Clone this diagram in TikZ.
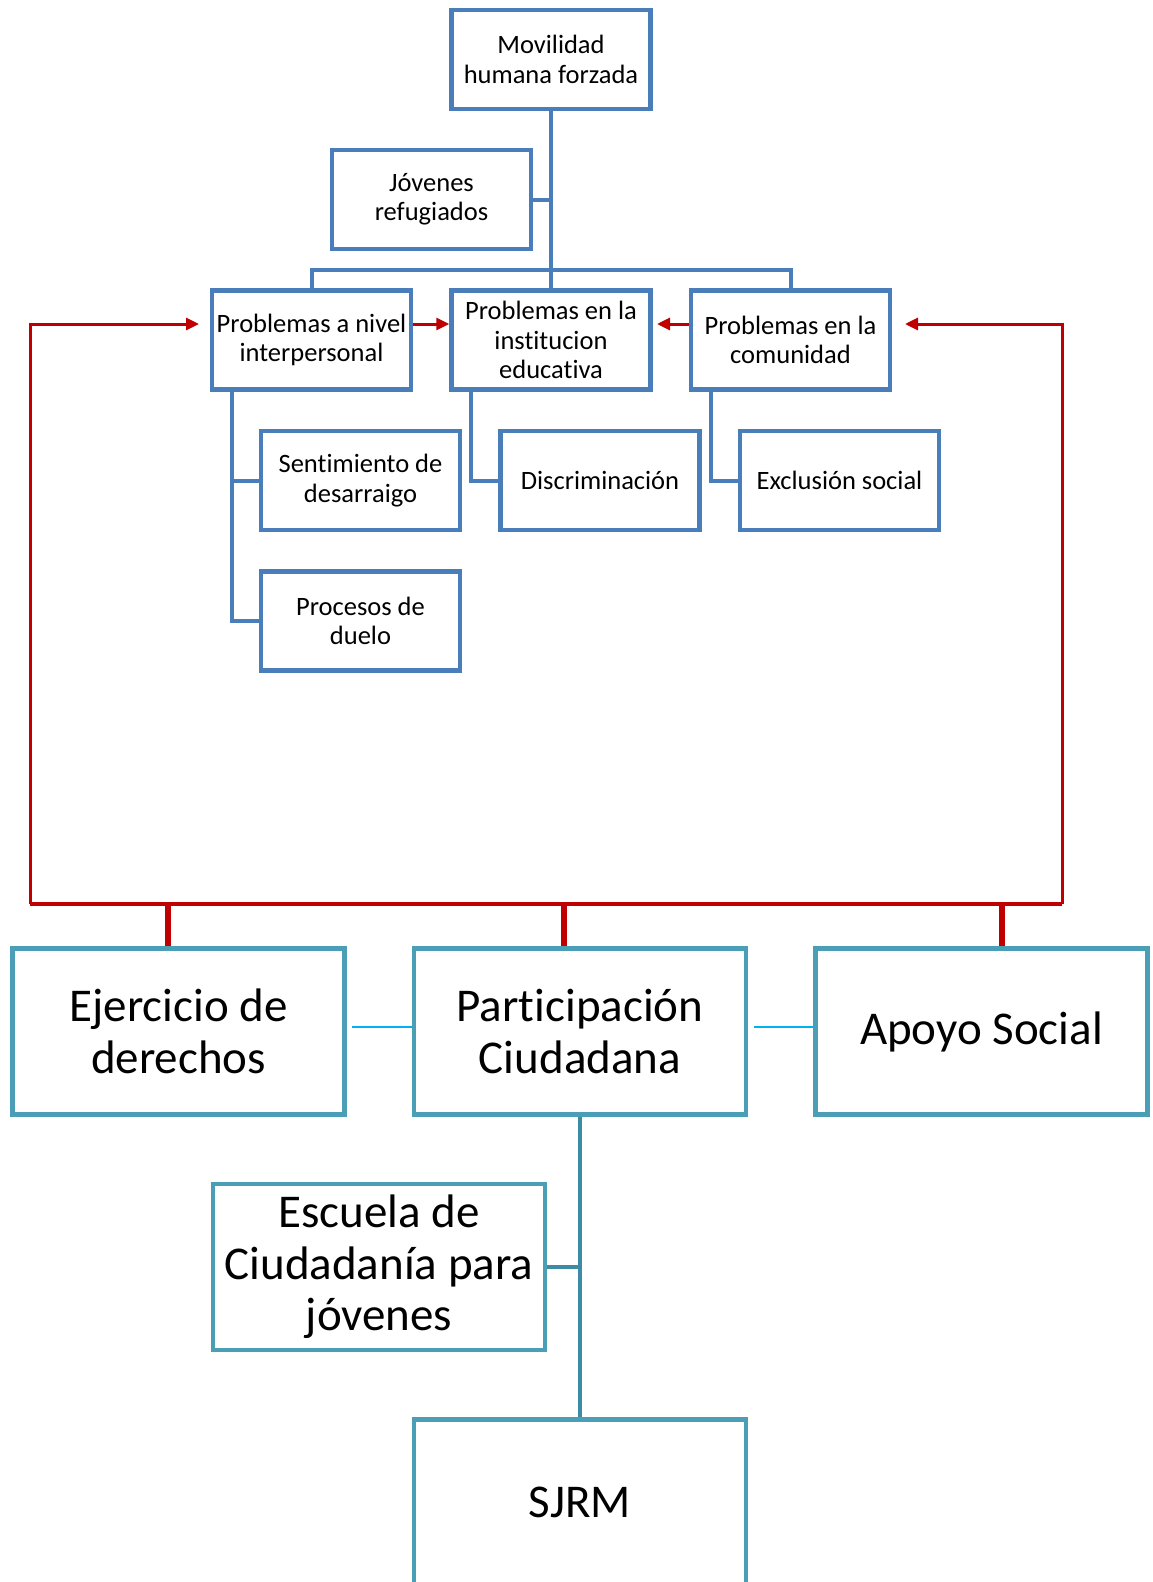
\documentclass[tikz,border=0pt]{standalone}
\usepackage{fontspec}
\setmainfont{Carlito}[RawFeature={-liga;-dlig;-clig;-calt;-hlig}]
\usetikzlibrary{arrows.meta}
\definecolor{bblue}{RGB}{74,126,187}
\definecolor{tealb}{RGB}{74,158,181}
\definecolor{tealc}{RGB}{60,140,165}
\definecolor{lblue}{RGB}{0,176,240}
\definecolor{dred}{RGB}{192,0,0}
\begin{document}
\begin{tikzpicture}[x=1pt,y=-1pt,
  sbox/.style={draw=bblue,line width=4.5pt,minimum width=199pt,minimum height=99pt,inner sep=0pt,align=center,font=\fontsize{26.5}{29.3}\selectfont},
  bbox/.style={draw=tealb,line width=4.5pt,minimum width=332pt,minimum height=166pt,inner sep=0pt,align=center,font=\fontsize{47}{51.5}\selectfont},
  bconn/.style={draw=bblue,line width=4pt},
  tconn/.style={draw=tealc,line width=4pt},
  lconn/.style={draw=lblue,line width=2pt},
  rbar/.style={draw=dred,line width=4.5pt},
  rstub/.style={draw=dred,line width=6.5pt},
  rarrow/.style={draw=dred,line width=3pt,-{Triangle[length=13pt,width=12pt]}}]
\useasboundingbox (0,0) rectangle (1152,1582);
% top tree
\node[sbox] (mov) at (551,59.5) {Movilidad\\humana forzada};
\node[sbox] (jov) at (431.5,199.5) {Jóvenes\\refugiados};
\node[sbox] (inter) at (311.5,340) {Problemas a nivel\\interpersonal};
\node[sbox] (inst) at (551,340) {Problemas en la\\institucion\\educativa};
\node[sbox] (com) at (790.5,340) {Problemas en la\\comunidad};
\node[sbox] (sent) at (360.5,480.5) {Sentimiento de\\desarraigo};
\node[sbox] (proc) at (360.5,621) {Procesos de\\duelo};
\node[sbox] (disc) at (600,480.5) {Discriminación};
\node[sbox] (excl) at (839.5,480.5) {Exclusión social};
% bottom boxes
\node[bbox] (ejer) at (178.5,1031.5) {Ejercicio de\\derechos};
\node[bbox] (part) at (580,1031.5) {Participación\\Ciudadana};
\node[bbox] (apoyo) at (981.5,1031.5) {Apoyo Social};
\node[bbox] (esc) at (379,1267) {Escuela de\\Ciudadanía para\\jóvenes};
\node[bbox] (sjrm) at (580,1502.5) {SJRM};
% coordinates
\coordinate (bar) at (0,270);
\coordinate (sx1) at (232,0);
\coordinate (sx2) at (471,0);
\coordinate (sx3) at (711,0);
\coordinate (rBL) at (30,904);
\coordinate (rBR) at (1062,904);
\coordinate (aL) at (199,324);
\coordinate (aR) at (905,324);
\coordinate (aM) at (657,324);
\coordinate (s1) at (168,904);
\coordinate (s2) at (564,904);
\coordinate (s3) at (1002,904);
\coordinate (ly) at (0,1027);
% blue connectors
\draw[bconn] (mov.south) -- (inst.north);
\draw[bconn] (jov.east) -- (jov.east -| mov.south);
\draw[bconn] (inter.north) |- (bar -| com.north) -- (com.north);
\draw[bconn] (inter.south -| sx1) |- (proc.west);
\draw[bconn] (sent.west) -- (sent.west -| sx1);
\draw[bconn] (inst.south -| sx2) |- (disc.west);
\draw[bconn] (com.south -| sx3) |- (excl.west);
% red connectors
\draw[rbar] (rBL) -- (rBR);
\draw[rarrow] (rBL) |- (aL);
\draw[rarrow] (rBR) |- (aR);
\draw[rarrow] (inter.east |- aL) -- (inst.west |- aL);
\draw[rarrow] (com.west |- aM) -- (aM);
\draw[rstub] (s1) -- (ejer.north -| s1);
\draw[rstub] (s2) -- (part.north -| s2);
\draw[rstub] (s3) -- (apoyo.north -| s3);
% teal connectors
\draw[lconn] ([xshift=5pt]ejer.east |- ly) -- (part.west |- ly);
\draw[lconn] ([xshift=6pt]part.east |- ly) -- (apoyo.west |- ly);
\draw[tconn] (part.south) -- (sjrm.north);
\draw[tconn] (esc.east) -- (esc.east -| part.south);
\end{tikzpicture}
\end{document}
